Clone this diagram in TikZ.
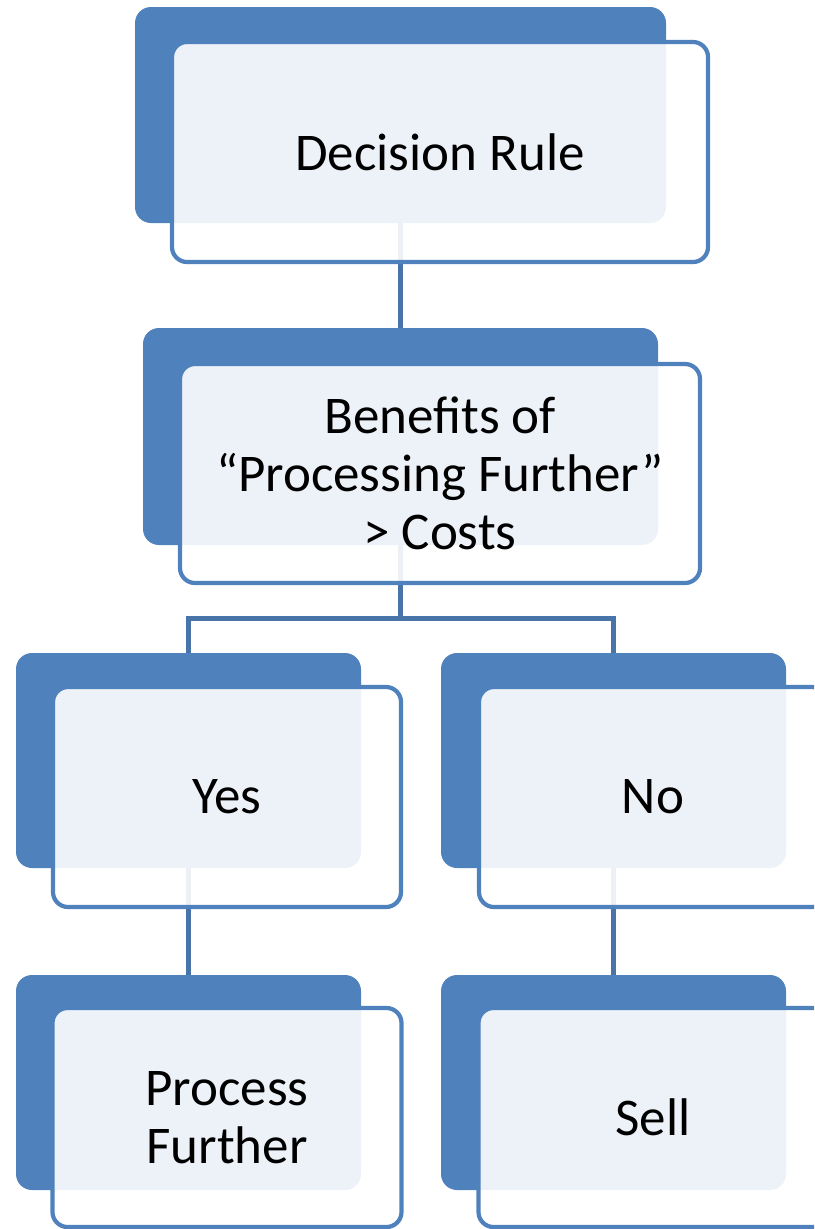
\documentclass[tikz,border=0pt]{standalone}
\usepackage{fontspec}
\setmainfont{Carlito}
\usetikzlibrary{positioning}
\definecolor{accent}{RGB}{79,129,189}
\definecolor{linkblue}{RGB}{72,116,170}

\begin{document}
\begin{tikzpicture}[
  x=1pt, y=-1pt,
  back/.style={fill=accent, rounded corners=16pt, inner sep=0pt},
  front/.style={draw=accent, line width=4.2pt, fill=white, fill opacity=0.9, text opacity=1,
    rounded corners=15pt, align=center, inner sep=0pt, font=\fontsize{53}{58}\selectfont},
  link/.style={draw=linkblue, line width=5pt}
]
\useasboundingbox (0,0) rectangle (814,1229);
\clip (0,0) rectangle (814,1229);

% back plates
\node[back, minimum width=531pt, minimum height=216pt] (rule) at (400.5,115) {};
\node[back, minimum width=515pt, minimum height=217pt] (test) at (400.5,436.5) {};
\node[back, minimum width=345pt, minimum height=215pt] (yes) at (188.5,760.5) {};
\node[back, minimum width=345pt, minimum height=215pt] (no) at (613.5,760.5) {};
\node[back, minimum width=345pt, minimum height=215pt] (proc) at (188.5,1082.5) {};
\node[back, minimum width=345pt, minimum height=215pt] (sell) at (613.5,1082.5) {};

% connectors
\coordinate (fork) at ([yshift=-73pt]test.south);
\draw[link] (rule) -- (test);
\draw[link] (test.south) -- (fork) -| (yes.north);
\draw[link] (fork) -| (no.north);
\draw[link] (yes) -- (proc);
\draw[link] (no) -- (sell);

% front cards
\node[front, minimum width=536pt, minimum height=220pt] (ruletxt) at ([shift={(39.5,37)}]rule.center) {Decision Rule};
\node[front, minimum width=520pt, minimum height=219pt] (testtxt) at ([shift={(39.5,37)}]test.center) {Benefits of\\“Processing Further”\\> Costs};
\node[front, minimum width=348pt, minimum height=220pt] (yestxt) at ([shift={(38.5,36.5)}]yes.center) {Yes};
\node[front, minimum width=348pt, minimum height=220pt] (notxt) at ([shift={(39.5,36.5)}]no.center) {No};
\node[front, minimum width=349pt, minimum height=219pt] (proctxt) at ([shift={(38.5,35)}]proc.center) {Process\\Further};
\node[front, minimum width=349pt, minimum height=219pt] (selltxt) at ([shift={(39.5,35)}]sell.center) {Sell};
\end{tikzpicture}
\end{document}
